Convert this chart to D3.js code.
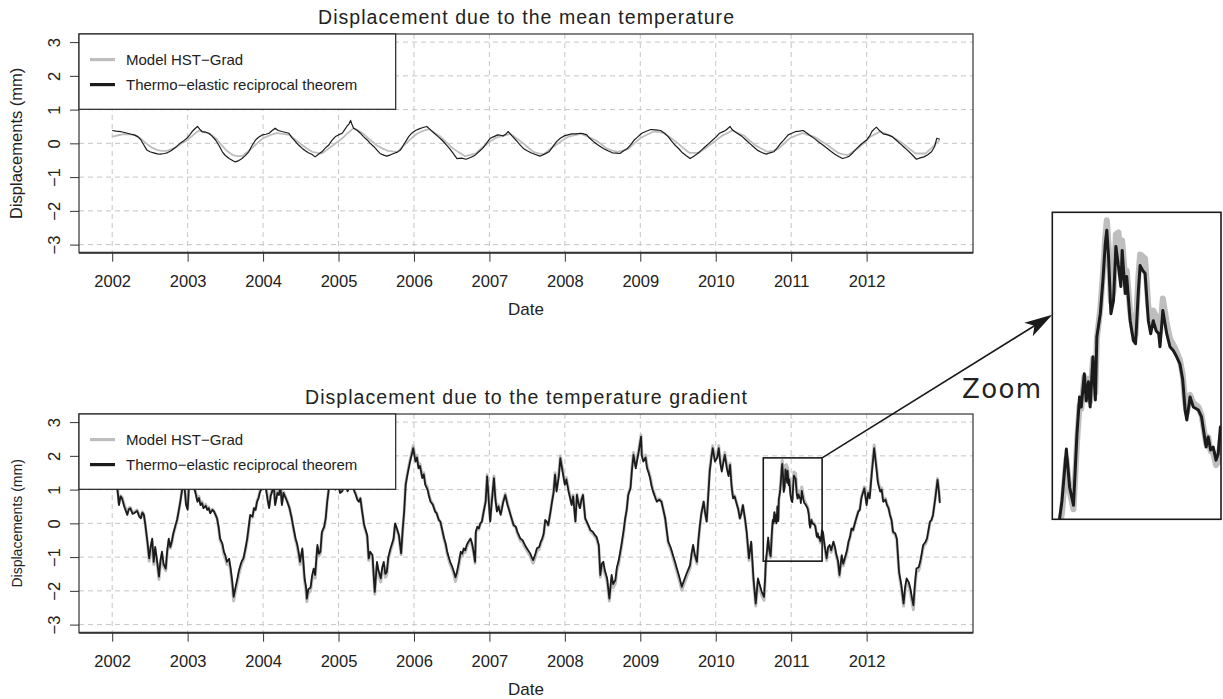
<!DOCTYPE html>
<html>
<head>
<meta charset="utf-8">
<script src="https://cdn.jsdelivr.net/npm/d3@7"></script>
<style>
  body { margin: 0; background: #fff; }
  svg text { font-family: "Liberation Sans", Arial, Helvetica, sans-serif; fill: #222; }
</style>
</head>
<body>
<svg id="chart" width="1223" height="699"></svg>
<script>
// ---- data ----
const yearTicks = [2002, 2003, 2004, 2005, 2006, 2007, 2008, 2009, 2010, 2011, 2012];
const dispTicks = [-3, -2, -1, 0, 1, 2, 3];
const panelTitles = ["Displacement due to the mean temperature", "Displacement due to the temperature gradient"];
const legendLabels = ["Model HST\u2212Grad", "Thermo\u2212elastic reciprocal theorem"];
const axisLabels = { x: "Date", y: "Displacements (mm)" };

// mean temperature: [year, mm]
const meanTheorem = [
  [2002.00,0.38],[2002.05,0.36],[2002.11,0.35],[2002.15,0.33],[2002.20,0.30],[2002.25,0.27],[2002.29,0.25],[2002.34,0.20],[2002.38,0.10],[2002.42,-0.05],
  [2002.46,-0.20],[2002.50,-0.25],[2002.55,-0.28],[2002.60,-0.31],[2002.64,-0.32],[2002.69,-0.30],[2002.73,-0.28],[2002.78,-0.22],[2002.82,-0.15],[2002.87,-0.06],
  [2002.91,0.02],[2002.95,0.08],[2002.99,0.15],[2003.03,0.26],[2003.06,0.35],[2003.10,0.44],[2003.13,0.50],[2003.16,0.42],[2003.19,0.35],[2003.24,0.33],
  [2003.28,0.30],[2003.32,0.22],[2003.37,0.10],[2003.42,-0.08],[2003.46,-0.25],[2003.50,-0.36],[2003.55,-0.45],[2003.59,-0.50],[2003.63,-0.55],[2003.67,-0.52],
  [2003.72,-0.45],[2003.76,-0.37],[2003.81,-0.25],[2003.85,-0.08],[2003.90,0.10],[2003.94,0.18],[2003.99,0.25],[2004.04,0.27],[2004.08,0.30],[2004.12,0.38],
  [2004.16,0.45],[2004.20,0.38],[2004.25,0.35],[2004.29,0.33],[2004.34,0.30],[2004.38,0.18],[2004.43,0.05],[2004.47,-0.05],[2004.52,-0.15],[2004.56,-0.22],
  [2004.60,-0.28],[2004.65,-0.33],[2004.69,-0.40],[2004.73,-0.33],[2004.78,-0.25],[2004.82,-0.15],[2004.87,-0.05],[2004.91,0.08],[2004.96,0.20],[2005.00,0.25],
  [2005.05,0.30],[2005.08,0.40],[2005.11,0.50],[2005.14,0.58],[2005.16,0.68],[2005.18,0.55],[2005.20,0.45],[2005.25,0.38],[2005.29,0.30],[2005.33,0.20],
  [2005.38,0.10],[2005.42,0.00],[2005.47,-0.10],[2005.51,-0.20],[2005.55,-0.30],[2005.60,-0.35],[2005.64,-0.38],[2005.69,-0.34],[2005.73,-0.30],[2005.78,-0.26],
  [2005.82,-0.20],[2005.87,-0.02],[2005.93,0.20],[2005.97,0.30],[2006.02,0.38],[2006.07,0.43],[2006.12,0.47],[2006.17,0.50],[2006.22,0.40],[2006.27,0.30],
  [2006.32,0.20],[2006.37,0.10],[2006.42,-0.02],[2006.47,-0.15],[2006.52,-0.30],[2006.57,-0.45],[2006.63,-0.44],[2006.69,-0.47],[2006.75,-0.42],[2006.81,-0.35],
  [2006.86,-0.25],[2006.91,-0.15],[2006.96,0.00],[2007.01,0.15],[2007.06,0.20],[2007.11,0.25],[2007.15,0.24],[2007.18,0.22],[2007.22,0.28],[2007.25,0.35],
  [2007.30,0.22],[2007.35,0.10],[2007.40,-0.03],[2007.45,-0.15],[2007.50,-0.22],[2007.55,-0.28],[2007.61,-0.33],[2007.67,-0.38],[2007.73,-0.32],[2007.79,-0.25],
  [2007.84,-0.10],[2007.89,0.05],[2007.94,0.15],[2007.99,0.22],[2008.04,0.25],[2008.09,0.28],[2008.15,0.28],[2008.21,0.30],[2008.25,0.28],[2008.29,0.25],
  [2008.33,0.15],[2008.38,0.05],[2008.44,-0.05],[2008.51,-0.15],[2008.57,-0.22],[2008.63,-0.28],[2008.68,-0.29],[2008.73,-0.30],[2008.78,-0.22],[2008.83,-0.15],
  [2008.88,-0.02],[2008.92,0.10],[2008.97,0.20],[2009.02,0.30],[2009.08,0.36],[2009.14,0.41],[2009.20,0.40],[2009.27,0.38],[2009.32,0.30],[2009.37,0.20],
  [2009.41,0.08],[2009.46,-0.05],[2009.51,-0.16],[2009.56,-0.28],[2009.61,-0.37],[2009.66,-0.45],[2009.71,-0.38],[2009.76,-0.30],[2009.81,-0.20],[2009.86,-0.10],
  [2009.91,0.00],[2009.96,0.10],[2010.01,0.20],[2010.05,0.30],[2010.09,0.34],[2010.13,0.38],[2010.16,0.44],[2010.19,0.50],[2010.22,0.40],[2010.25,0.35],
  [2010.30,0.28],[2010.35,0.20],[2010.40,0.10],[2010.45,0.00],[2010.50,-0.10],[2010.55,-0.20],[2010.61,-0.27],[2010.67,-0.32],[2010.72,-0.28],[2010.77,-0.25],
  [2010.82,-0.12],[2010.86,0.00],[2010.91,0.12],[2010.96,0.25],[2011.01,0.30],[2011.06,0.35],[2011.11,0.36],[2011.16,0.38],[2011.21,0.30],[2011.26,0.22],
  [2011.31,0.14],[2011.36,0.05],[2011.42,-0.05],[2011.48,-0.15],[2011.53,-0.24],[2011.58,-0.32],[2011.63,-0.39],[2011.68,-0.45],[2011.73,-0.42],[2011.77,-0.38],
  [2011.82,-0.27],[2011.87,-0.15],[2011.93,-0.02],[2012.00,0.10],[2012.04,0.22],[2012.07,0.35],[2012.10,0.42],[2012.13,0.48],[2012.17,0.38],[2012.22,0.28],
  [2012.28,0.25],[2012.34,0.20],[2012.39,0.10],[2012.44,0.00],[2012.49,-0.10],[2012.54,-0.20],[2012.60,-0.33],[2012.66,-0.47],[2012.71,-0.43],[2012.76,-0.40],
  [2012.81,-0.34],[2012.86,-0.25],[2012.90,-0.10],[2012.93,0.15],[2012.97,0.12]
];
const meanModel = [
  [2002.00,0.20],[2002.08,0.24],[2002.15,0.27],[2002.22,0.27],[2002.30,0.25],[2002.38,0.14],[2002.45,0.00],[2002.52,-0.12],[2002.60,-0.20],[2002.66,-0.22],
  [2002.72,-0.22],[2002.78,-0.18],[2002.85,-0.12],[2002.92,0.00],[2003.00,0.10],[2003.08,0.26],[2003.15,0.38],[2003.22,0.33],[2003.30,0.28],[2003.38,0.14],
  [2003.45,-0.05],[2003.52,-0.22],[2003.60,-0.35],[2003.66,-0.38],[2003.72,-0.38],[2003.78,-0.28],[2003.85,-0.15],[2003.92,0.00],[2004.00,0.15],[2004.09,0.24],
  [2004.18,0.30],[2004.26,0.28],[2004.35,0.25],[2004.42,0.12],[2004.50,-0.02],[2004.58,-0.15],[2004.65,-0.25],[2004.72,-0.28],[2004.78,-0.30],[2004.84,-0.20],
  [2004.90,-0.10],[2004.98,0.03],[2005.05,0.15],[2005.12,0.30],[2005.20,0.45],[2005.26,0.38],[2005.32,0.30],[2005.41,0.12],[2005.50,-0.05],[2005.58,-0.15],
  [2005.65,-0.22],[2005.72,-0.24],[2005.78,-0.25],[2005.85,-0.10],[2005.92,0.05],[2005.98,0.18],[2006.05,0.30],[2006.12,0.37],[2006.20,0.42],[2006.28,0.30],
  [2006.35,0.20],[2006.42,0.05],[2006.50,-0.12],[2006.59,-0.26],[2006.68,-0.38],[2006.75,-0.34],[2006.82,-0.30],[2006.88,-0.17],[2006.95,-0.05],[2007.02,0.07],
  [2007.10,0.18],[2007.19,0.23],[2007.28,0.28],[2007.35,0.17],[2007.42,0.05],[2007.50,-0.10],[2007.58,-0.25],[2007.65,-0.30],[2007.72,-0.32],[2007.80,-0.18],
  [2007.88,-0.05],[2007.96,0.08],[2008.05,0.20],[2008.14,0.25],[2008.22,0.28],[2008.31,0.19],[2008.40,0.10],[2008.48,-0.02],[2008.55,-0.15],[2008.62,-0.21],
  [2008.70,-0.25],[2008.78,-0.21],[2008.85,-0.15],[2008.92,0.00],[2009.00,0.15],[2009.09,0.26],[2009.18,0.35],[2009.25,0.33],[2009.32,0.30],[2009.41,0.15],
  [2009.50,0.00],[2009.57,-0.14],[2009.65,-0.28],[2009.72,-0.28],[2009.78,-0.28],[2009.85,-0.17],[2009.92,-0.05],[2010.00,0.08],[2010.08,0.22],[2010.15,0.30],
  [2010.22,0.38],[2010.30,0.30],[2010.38,0.22],[2010.45,0.08],[2010.52,-0.05],[2010.60,-0.15],[2010.68,-0.25],[2010.75,-0.22],[2010.82,-0.18],[2010.90,-0.02],
  [2010.98,0.15],[2011.06,0.23],[2011.15,0.30],[2011.22,0.25],[2011.30,0.20],[2011.39,0.08],[2011.48,-0.05],[2011.55,-0.17],[2011.62,-0.28],[2011.68,-0.32],
  [2011.75,-0.35],[2011.82,-0.24],[2011.90,-0.12],[2011.98,0.04],[2012.05,0.20],[2012.12,0.28],[2012.18,0.35],[2012.25,0.29],[2012.32,0.22],[2012.40,0.11],
  [2012.48,0.00],[2012.56,-0.15],[2012.65,-0.30],[2012.72,-0.30],[2012.78,-0.30],[2012.84,-0.18],[2012.90,-0.05],[2012.97,0.10]
];

// temperature gradient: [year, reciprocal theorem, model HST-Grad]
const gradPoints = [
  [2002.00,1.35,1.40],[2002.03,1.15,1.20],[2002.07,1.00,1.05],[2002.09,0.54,0.60],[2002.11,0.80,0.82],[2002.13,0.74,0.78],[2002.16,0.50,0.55],[2002.20,0.25,0.30],
  [2002.22,0.42,0.45],[2002.24,0.45,0.47],[2002.27,0.28,0.32],[2002.29,0.30,0.33],[2002.33,0.37,0.40],[2002.36,0.20,0.24],[2002.38,0.15,0.18],[2002.40,0.32,0.34],
  [2002.42,0.25,0.27],[2002.44,-0.05,-0.06],[2002.47,-0.60,-0.65],[2002.49,-1.04,-1.12],[2002.51,-0.70,-0.76],[2002.53,-0.45,-0.52],[2002.55,-1.14,-1.22],[2002.57,-0.70,-0.78],
  [2002.60,-1.20,-1.28],[2002.62,-1.58,-1.66],[2002.64,-1.10,-1.18],[2002.66,-0.84,-0.92],[2002.68,-1.20,-1.27],[2002.71,-1.34,-1.40],[2002.73,-0.80,-0.86],[2002.75,-0.45,-0.52],
  [2002.77,-0.70,-0.74],[2002.79,-0.54,-0.58],[2002.81,-0.30,-0.33],[2002.84,-0.05,-0.08],[2002.86,0.10,0.08],[2002.88,0.35,0.34],[2002.90,0.60,0.60],[2002.93,1.04,1.06],
  [2002.95,1.30,1.33],[2002.98,0.54,0.58],
  [2003.00,0.40,0.46],[2003.02,1.20,1.24],[2003.06,1.30,1.36],[2003.08,1.05,1.10],[2003.10,0.94,1.00],[2003.13,0.64,0.70],[2003.15,0.75,0.80],[2003.17,0.54,0.60],
  [2003.19,0.60,0.64],[2003.21,0.45,0.50],[2003.24,0.52,0.56],[2003.26,0.40,0.44],[2003.28,0.45,0.48],[2003.30,0.30,0.33],[2003.33,0.40,0.42],[2003.35,0.35,0.36],
  [2003.37,0.25,0.26],[2003.39,0.15,0.14],[2003.41,-0.10,-0.13],[2003.43,-0.45,-0.50],[2003.46,-0.60,-0.66],[2003.48,-0.84,-0.92],[2003.50,-0.95,-1.03],[2003.52,-1.14,-1.22],
  [2003.55,-1.05,-1.14],[2003.57,-1.34,-1.43],[2003.59,-1.70,-1.80],[2003.61,-2.18,-2.30],[2003.63,-1.95,-2.06],[2003.66,-1.63,-1.74],[2003.68,-1.40,-1.50],[2003.70,-1.24,-1.33],
  [2003.72,-1.10,-1.18],[2003.74,-1.04,-1.10],[2003.77,-0.70,-0.76],[2003.79,-0.45,-0.50],[2003.81,-0.10,-0.14],[2003.83,0.25,0.22],[2003.86,0.20,0.18],[2003.88,0.45,0.44],
  [2003.90,0.40,0.40],[2003.92,0.64,0.66],[2003.94,0.75,0.78],[2003.96,0.94,0.98],[2003.99,1.05,1.10],
  [2004.01,1.20,1.25],[2004.04,1.00,1.06],[2004.06,0.70,0.76],[2004.08,0.45,0.52],[2004.10,0.80,0.85],[2004.12,0.94,1.00],[2004.14,1.20,1.25],[2004.16,0.54,0.60],
  [2004.19,0.90,0.95],[2004.21,0.84,0.88],[2004.23,1.10,1.14],[2004.25,0.54,0.60],[2004.27,0.90,0.93],[2004.30,0.75,0.78],[2004.32,0.64,0.66],[2004.35,0.45,0.46],
  [2004.38,0.15,0.14],[2004.40,-0.10,-0.13],[2004.43,-0.45,-0.50],[2004.45,-0.60,-0.66],[2004.47,-0.84,-0.92],[2004.49,-1.14,-1.22],[2004.52,-0.74,-0.82],[2004.55,-1.63,-1.72],
  [2004.57,-1.90,-2.00],[2004.58,-2.23,-2.32],[2004.60,-1.95,-2.06],[2004.63,-1.90,-2.00],[2004.65,-1.55,-1.65],[2004.67,-1.34,-1.44],[2004.69,-1.53,-1.62],[2004.72,-0.64,-0.72],
  [2004.74,-0.90,-0.97],[2004.76,-0.84,-0.90],[2004.78,-0.25,-0.30],[2004.81,-0.10,-0.13],[2004.83,0.15,0.13],[2004.85,0.64,0.64],[2004.87,1.00,1.02],[2004.90,1.10,1.13],
  [2004.92,1.20,1.24],[2004.96,1.00,1.05],[2004.98,1.10,1.14],
  [2005.00,1.15,1.20],[2005.02,0.90,0.96],[2005.05,0.95,1.00],[2005.07,1.10,1.15],[2005.09,1.20,1.25],[2005.12,0.95,1.00],[2005.14,1.05,1.10],[2005.16,1.20,1.24],
  [2005.18,1.15,1.18],[2005.21,0.95,0.98],[2005.23,0.84,0.87],[2005.25,0.70,0.72],[2005.27,0.64,0.66],[2005.29,0.74,0.75],[2005.31,0.40,0.40],[2005.34,-0.05,-0.08],
  [2005.36,-0.20,-0.24],[2005.38,-0.35,-0.40],[2005.40,-1.04,-1.10],[2005.42,-0.84,-0.92],[2005.45,-0.94,-1.02],[2005.48,-2.03,-2.10],[2005.51,-1.14,-1.24],[2005.53,-1.40,-1.50],
  [2005.56,-1.63,-1.74],[2005.58,-1.30,-1.40],[2005.60,-1.14,-1.24],[2005.62,-1.50,-1.60],[2005.64,-1.44,-1.53],[2005.66,-1.00,-1.08],[2005.69,-0.74,-0.81],[2005.71,-0.60,-0.66],
  [2005.73,-0.45,-0.50],[2005.75,0.00,-0.04],[2005.78,-0.20,-0.23],[2005.80,-0.35,-0.38],[2005.83,-0.89,-0.93],[2005.85,-0.20,-0.24],[2005.87,0.35,0.34],[2005.89,1.14,1.16],
  [2005.91,1.40,1.44],[2005.93,1.63,1.68],[2005.95,1.85,1.90],[2005.97,2.03,2.10],[2005.99,2.23,2.30],
  [2006.02,1.83,1.90],[2006.04,1.95,2.02],[2006.06,1.63,1.70],[2006.08,1.70,1.76],[2006.11,1.34,1.40],[2006.13,1.45,1.50],[2006.15,1.14,1.20],[2006.18,1.00,1.05],
  [2006.20,0.80,0.84],[2006.22,0.64,0.68],[2006.25,0.55,0.58],[2006.28,0.35,0.37],[2006.30,0.30,0.31],[2006.33,0.10,0.10],[2006.35,0.05,0.04],[2006.37,-0.15,-0.17],
  [2006.40,-0.45,-0.49],[2006.42,-0.60,-0.65],[2006.44,-0.84,-0.90],[2006.46,-1.00,-1.07],[2006.48,-1.14,-1.22],[2006.51,-1.30,-1.38],[2006.53,-1.44,-1.53],[2006.55,-1.60,-1.72],
  [2006.57,-1.44,-1.55],[2006.60,-1.10,-1.20],[2006.62,-0.84,-0.93],[2006.64,-0.90,-0.98],[2006.66,-0.74,-0.81],[2006.68,-0.80,-0.86],[2006.70,-0.64,-0.70],[2006.72,-0.55,-0.60],
  [2006.75,-0.45,-0.50],[2006.77,-0.60,-0.64],[2006.79,-0.84,-0.88],[2006.81,-1.14,-1.18],[2006.82,-0.25,-0.30],[2006.84,-0.10,-0.14],[2006.86,-0.15,-0.18],[2006.88,0.00,-0.02],
  [2006.90,0.05,0.04],[2006.92,0.30,0.30],[2006.95,0.64,0.66],[2006.97,1.39,1.44],
  [2007.01,0.05,0.10],[2007.03,0.60,0.65],[2007.06,1.34,1.40],[2007.08,0.70,0.76],[2007.10,0.35,0.40],[2007.12,0.50,0.55],[2007.15,0.25,0.30],[2007.18,0.60,0.64],
  [2007.21,0.84,0.88],[2007.24,0.55,0.58],[2007.26,0.40,0.42],[2007.28,0.25,0.26],[2007.30,0.10,0.10],[2007.32,-0.05,-0.07],[2007.35,-0.10,-0.13],[2007.37,-0.25,-0.29],
  [2007.39,-0.35,-0.40],[2007.41,-0.45,-0.51],[2007.44,-0.50,-0.56],[2007.47,-0.64,-0.71],[2007.50,-0.75,-0.82],[2007.54,-0.89,-0.97],[2007.56,-1.00,-1.09],[2007.58,-1.09,-1.18],
  [2007.61,-0.90,-0.99],[2007.63,-0.74,-0.82],[2007.66,-0.70,-0.77],[2007.68,-0.55,-0.61],[2007.70,-0.45,-0.50],[2007.72,-0.30,-0.34],[2007.74,0.10,0.07],[2007.76,0.05,0.03],
  [2007.78,-0.05,-0.07],[2007.81,0.35,0.35],[2007.83,0.64,0.66],[2007.85,0.90,0.94],[2007.87,1.44,1.50],[2007.89,0.94,1.00],[2007.92,1.40,1.46],[2007.94,1.93,2.00],
  [2007.97,1.53,1.60],
  [2008.00,1.14,1.20],[2008.02,1.30,1.36],[2008.05,0.94,1.00],[2008.07,0.75,0.80],[2008.09,0.54,0.59],[2008.11,0.80,0.84],[2008.14,0.05,0.08],[2008.16,0.84,0.87],
  [2008.18,0.60,0.62],[2008.20,0.45,0.47],[2008.22,0.70,0.71],[2008.24,0.84,0.85],[2008.27,0.15,0.14],[2008.30,0.00,-0.02],[2008.34,-0.20,-0.24],[2008.37,-0.25,-0.30],
  [2008.40,-0.35,-0.40],[2008.42,-0.40,-0.46],[2008.45,-0.64,-0.71],[2008.47,-1.53,-1.60],[2008.49,-1.20,-1.28],[2008.51,-1.14,-1.22],[2008.53,-1.40,-1.48],[2008.56,-1.63,-1.72],
  [2008.59,-2.23,-2.30],[2008.62,-1.53,-1.63],[2008.64,-1.80,-1.90],[2008.67,-1.68,-1.78],[2008.69,-1.30,-1.40],[2008.71,-1.14,-1.23],[2008.73,-0.90,-0.98],[2008.75,-0.64,-0.71],
  [2008.78,-0.20,-0.26],[2008.80,0.15,0.12],[2008.82,0.40,0.40],[2008.84,0.84,0.86],[2008.87,1.04,1.08],[2008.89,1.60,1.66],[2008.91,2.03,2.10],[2008.94,1.63,1.70],
  [2008.96,1.90,1.97],[2008.98,2.13,2.20],
  [2009.01,2.57,2.62],[2009.02,2.00,2.08],[2009.04,1.83,1.90],[2009.07,1.95,2.02],[2009.09,1.63,1.70],[2009.11,1.50,1.57],[2009.13,1.34,1.40],[2009.15,1.10,1.16],
  [2009.17,0.94,0.99],[2009.20,0.75,0.79],[2009.22,0.64,0.68],[2009.25,0.70,0.73],[2009.28,0.64,0.66],[2009.30,0.45,0.46],[2009.33,0.15,0.14],[2009.35,-0.20,-0.23],
  [2009.37,-0.54,-0.59],[2009.40,-0.70,-0.76],[2009.42,-0.84,-0.91],[2009.44,-1.00,-1.08],[2009.46,-1.14,-1.23],[2009.48,-1.30,-1.39],[2009.51,-1.53,-1.63],[2009.53,-1.70,-1.80],
  [2009.55,-1.88,-1.98],[2009.57,-1.75,-1.86],[2009.59,-1.63,-1.74],[2009.62,-1.45,-1.55],[2009.66,-1.24,-1.33],[2009.68,-0.90,-0.98],[2009.70,-0.64,-0.71],[2009.72,-0.90,-0.96],
  [2009.75,-1.14,-1.20],[2009.77,-0.50,-0.56],[2009.79,-0.05,-0.09],[2009.81,0.30,0.28],[2009.84,0.64,0.64],[2009.86,0.30,0.31],[2009.88,0.05,0.06],[2009.90,0.80,0.83],
  [2009.92,1.53,1.58],[2009.94,1.90,1.96],[2009.96,2.23,2.30],[2009.99,1.83,1.90],
  [2010.02,1.95,2.02],[2010.04,2.23,2.30],[2010.06,1.80,1.87],[2010.08,1.53,1.60],[2010.10,1.80,1.86],[2010.12,2.03,2.10],[2010.15,1.60,1.67],[2010.17,1.40,1.46],
  [2010.19,1.73,1.78],[2010.21,1.10,1.15],[2010.23,0.74,0.78],[2010.25,0.80,0.83],[2010.27,0.64,0.66],[2010.30,0.40,0.41],[2010.32,0.15,0.14],[2010.34,0.30,0.30],
  [2010.36,0.54,0.54],[2010.39,0.10,0.08],[2010.41,-0.25,-0.29],[2010.44,-1.04,-1.10],[2010.47,-0.54,-0.61],[2010.50,-1.63,-1.71],[2010.53,-2.38,-2.45],[2010.56,-1.63,-1.73],
  [2010.58,-1.80,-1.90],[2010.61,-2.03,-2.14],[2010.64,-2.18,-2.28],[2010.655,-1.60,-1.72],
  [2010.664,-1.11,-1.22],[2010.675,-0.93,-1.05],[2010.695,-0.42,-0.52],[2010.710,-0.80,-0.84],[2010.728,-0.98,-1.02],[2010.744,-0.27,-0.36],[2010.756,0.10,0.02],[2010.764,0.00,-0.02],
  [2010.778,0.33,0.30],[2010.787,0.06,0.10],[2010.797,0.25,0.28],[2010.805,0.00,0.05],[2010.818,0.50,0.48],[2010.829,0.07,0.14],[2010.836,0.70,0.68],[2010.852,0.93,0.98],
  [2010.864,1.26,1.32],[2010.875,1.63,1.70],[2010.882,1.76,1.86],[2010.890,1.50,1.62],[2010.901,0.93,1.05],[2010.913,1.06,1.15],[2010.924,1.60,1.72],[2010.936,1.40,1.74],
  [2010.947,1.20,1.45],[2010.953,1.56,1.66],[2010.967,1.13,1.28],[2010.974,1.30,1.36],[2010.990,0.86,0.95],[2011.005,0.66,0.74],[2011.015,0.63,0.72],[2011.028,1.16,1.30],
  [2011.036,1.41,1.52],[2011.048,1.36,1.50],[2011.059,1.33,1.48],[2011.074,0.86,1.00],[2011.085,0.73,0.86],[2011.097,0.86,0.96],[2011.110,0.76,0.90],[2011.122,0.73,0.85],
  [2011.128,0.60,0.74],[2011.141,0.96,1.08],[2011.159,0.73,0.84],[2011.174,0.60,0.68],[2011.190,0.56,0.62],[2011.205,0.50,0.55],[2011.220,0.43,0.47],[2011.233,0.27,0.32],
  [2011.244,-0.03,0.05],[2011.252,-0.13,-0.06],[2011.267,0.10,0.12],[2011.282,0.00,0.04],[2011.305,-0.03,0.00],[2011.320,-0.10,-0.08],[2011.341,-0.40,-0.36],[2011.351,-0.30,-0.30],
  [2011.362,-0.43,-0.44],[2011.374,-0.40,-0.46],[2011.387,-0.53,-0.58],[2011.397,-0.47,-0.55],[2011.407,-0.20,-0.35],
  [2011.42,-0.25,-0.30],[2011.44,-0.60,-0.64],[2011.47,-1.04,-1.10],[2011.49,-0.70,-0.76],[2011.51,-0.64,-0.70],[2011.53,-0.80,-0.86],[2011.56,-0.54,-0.60],[2011.58,-0.70,-0.76],
  [2011.60,-0.94,-1.00],[2011.62,-1.10,-1.17],[2011.64,-1.53,-1.58],[2011.67,-0.94,-1.00],[2011.69,-1.20,-1.26],[2011.71,-1.04,-1.10],[2011.74,-0.80,-0.85],[2011.76,-0.54,-0.58],
  [2011.78,-0.40,-0.43],[2011.80,-0.15,-0.18],[2011.82,-0.20,-0.22],[2011.85,0.05,0.04],[2011.87,0.20,0.20],[2011.89,0.35,0.36],[2011.91,0.40,0.42],[2011.93,0.74,0.77],
  [2011.95,0.90,0.94],[2011.97,1.04,1.08],
  [2012.00,0.54,0.60],[2012.02,0.90,0.95],[2012.04,0.74,0.80],[2012.07,1.53,1.60],[2012.10,2.23,2.32],[2012.13,1.63,1.72],[2012.15,1.20,1.28],[2012.18,0.94,1.00],
  [2012.20,1.00,1.05],[2012.22,0.64,0.69],[2012.25,0.70,0.74],[2012.27,0.54,0.57],[2012.29,0.45,0.47],[2012.31,0.25,0.26],[2012.33,0.10,0.09],[2012.35,-0.25,-0.28],
  [2012.38,-0.30,-0.34],[2012.40,-0.45,-0.50],[2012.43,-1.44,-1.50],[2012.46,-1.83,-1.92],[2012.49,-2.38,-2.45],[2012.51,-1.90,-2.00],[2012.53,-1.63,-1.74],[2012.56,-1.75,-1.86],
  [2012.58,-1.93,-2.04],[2012.60,-2.20,-2.32],[2012.62,-2.43,-2.56],[2012.64,-1.80,-1.92],[2012.66,-1.34,-1.45],[2012.69,-1.30,-1.40],[2012.71,-1.14,-1.23],[2012.73,-0.90,-0.98],
  [2012.75,-0.64,-0.71],[2012.78,-0.55,-0.61],[2012.80,-0.45,-0.50],[2012.82,-0.20,-0.24],[2012.84,0.05,0.03],[2012.86,0.10,0.09],[2012.88,0.25,0.25],[2012.91,0.74,0.76],
  [2012.94,1.29,1.33],[2012.96,0.90,0.95],[2012.97,0.60,0.66]
];

// window of the gradient panel that is blown up on the right
const zoomWindow = { x0: 2010.63, x1: 2011.41, y0: -1.12, y1: 1.94 };

// ---- layout ----
const svg = d3.select("#chart");
const plotLeft = 79, plotRight = 973, panelH = 218.7;
const x = d3.scaleLinear().domain([2001.56, 2013.41]).range([plotLeft, plotRight]);
const modelColor = "#bebebe", theoremColor = "#1b1b1b", gridColor = "#c6c6c6";
const fmtDisp = d => d < 0 ? "\u2212" + Math.abs(d) : String(d);

const panels = [
  { top: 34, title: panelTitles[0], titleLen: 416, ylabSize: 16.5, ylabX: 22,
    theorem: meanTheorem, model: meanModel, thW: 1.2, mdW: 1.8 },
  { top: 414, title: panelTitles[1], titleLen: 442, ylabSize: 14, ylabX: 21.5,
    theorem: gradPoints.map(d => [d[0], d[1]]), model: gradPoints.map(d => [d[0], d[2]]), thW: 1.8, mdW: 3 }
];

function drawPanel(p, i) {
  const y = d3.scaleLinear().domain([-3.24, 3.24]).range([p.top + panelH, p.top]);
  const g = svg.append("g");

  g.append("clipPath").attr("id", "clip" + i)
    .append("rect").attr("x", plotLeft).attr("y", p.top)
    .attr("width", plotRight - plotLeft).attr("height", panelH);

  // dashed grid
  g.selectAll(".vgrid").data(yearTicks).join("line")
    .attr("x1", d => x(d)).attr("x2", d => x(d))
    .attr("y1", p.top).attr("y2", p.top + panelH)
    .attr("stroke", gridColor).attr("stroke-dasharray", "5,4");
  g.selectAll(".hgrid").data(dispTicks).join("line")
    .attr("x1", plotLeft).attr("x2", plotRight)
    .attr("y1", d => y(d)).attr("y2", d => y(d))
    .attr("stroke", gridColor).attr("stroke-dasharray", "5,4");

  // series
  const line = d3.line().x(d => x(d[0])).y(d => y(d[1]));
  const lines = g.append("g").attr("clip-path", `url(#clip${i})`);
  lines.append("path").datum(p.model).attr("d", line)
    .attr("fill", "none").attr("stroke", modelColor).attr("stroke-width", p.mdW).attr("stroke-linejoin", "round");
  lines.append("path").datum(p.theorem).attr("d", line)
    .attr("fill", "none").attr("stroke", theoremColor).attr("stroke-width", p.thW).attr("stroke-linejoin", "round");

  // box
  g.append("rect").attr("x", plotLeft).attr("y", p.top)
    .attr("width", plotRight - plotLeft).attr("height", panelH)
    .attr("fill", "none").attr("stroke", "#333").attr("stroke-width", 1.2);
  g.append("line").attr("x1", plotLeft).attr("x2", plotRight)
    .attr("y1", p.top + panelH).attr("y2", p.top + panelH)
    .attr("stroke", "#333").attr("stroke-width", 2);

  // axes
  const xa = g.append("g").attr("transform", `translate(0,${p.top + panelH})`)
    .style("color", "#333")
    .call(d3.axisBottom(x).tickValues(yearTicks).tickFormat(d3.format("d")).tickSize(9));
  xa.select(".domain").remove();
  xa.selectAll("text").attr("y", 34).attr("dy", null)
    .style("font-size", "16.5px").style("font-family", "'Liberation Sans', Arial, sans-serif");

  const ya = g.append("g").attr("transform", `translate(${plotLeft},0)`)
    .style("color", "#333")
    .call(d3.axisLeft(y).tickValues(dispTicks).tickFormat(fmtDisp).tickSize(9));
  ya.select(".domain").remove();
  ya.selectAll("text").attr("x", 0).attr("y", -19).attr("dy", null)
    .attr("transform", "rotate(-90)").attr("text-anchor", "middle")
    .style("font-size", "16.5px").style("font-family", "'Liberation Sans', Arial, sans-serif");

  // titles and axis labels
  const cx = (plotLeft + plotRight) / 2;
  g.append("text").attr("x", cx - p.titleLen / 2).attr("y", p.top - 10.4)
    .attr("textLength", p.titleLen).attr("lengthAdjust", "spacing")
    .style("font-size", "19.5px").text(p.title);
  g.append("text").attr("x", cx).attr("y", p.top + panelH + 62.3)
    .attr("text-anchor", "middle").style("font-size", "17px").text(axisLabels.x);
  g.append("text").attr("transform", `translate(${p.ylabX},${y(0)}) rotate(-90)`)
    .attr("text-anchor", "middle").style("font-size", p.ylabSize + "px").text(axisLabels.y);

  // legend (white box over the data)
  const lg = g.append("g");
  lg.append("rect").attr("x", plotLeft).attr("y", p.top).attr("width", 316.7).attr("height", 75.3)
    .attr("fill", "#fff").attr("stroke", "#222").attr("stroke-width", 1.2);
  [modelColor, theoremColor].forEach((c, k) => {
    const ly = p.top + 25.6 + k * 25;
    lg.append("line").attr("x1", 90).attr("x2", 115).attr("y1", ly).attr("y2", ly)
      .attr("stroke", c).attr("stroke-width", 3.2);
    lg.append("text").attr("x", 126).attr("y", ly + 5.4).style("font-size", "15px").text(legendLabels[k]);
  });
  return y;
}

const yScales = panels.map(drawPanel);
const yGrad = yScales[1];

// zoom window on the gradient panel
const rx0 = x(zoomWindow.x0), rx1 = x(zoomWindow.x1);
const ry0 = yGrad(zoomWindow.y1), ry1 = yGrad(zoomWindow.y0);
svg.append("rect").attr("x", rx0).attr("y", ry0).attr("width", rx1 - rx0).attr("height", ry1 - ry0)
  .attr("fill", "none").attr("stroke", "#1a1a1a").attr("stroke-width", 1.6);

// inset
const inset = { left: 1052.3, right: 1221, top: 212.3, bottom: 519.3 };
const xi = d3.scaleLinear().domain([zoomWindow.x0, zoomWindow.x1]).range([inset.left, inset.right]);
const yi = d3.scaleLinear().domain([zoomWindow.y0, zoomWindow.y1]).range([inset.bottom, inset.top]);
svg.append("clipPath").attr("id", "clipInset").append("rect")
  .attr("x", inset.left).attr("y", inset.top)
  .attr("width", inset.right - inset.left).attr("height", inset.bottom - inset.top);
const insetLine = d3.line().x(d => xi(d[0])).y(d => yi(d[1]));
const ig = svg.append("g").attr("clip-path", "url(#clipInset)");
ig.append("path").datum(panels[1].model).attr("d", insetLine)
  .attr("fill", "none").attr("stroke", modelColor).attr("stroke-width", 6).attr("stroke-linejoin", "round");
ig.append("path").datum(panels[1].theorem).attr("d", insetLine)
  .attr("fill", "none").attr("stroke", theoremColor).attr("stroke-width", 3).attr("stroke-linejoin", "round");
svg.append("rect").attr("x", inset.left).attr("y", inset.top)
  .attr("width", inset.right - inset.left).attr("height", inset.bottom - inset.top)
  .attr("fill", "none").attr("stroke", "#1a1a1a").attr("stroke-width", 1.6);

// arrow from the window corner to the inset
const tip = [inset.left, inset.top + (inset.bottom - inset.top) / 3];
const start = [rx1, ry0];
const dx = tip[0] - start[0], dy = tip[1] - start[1], len = Math.hypot(dx, dy);
const ux = dx / len, uy = dy / len, nx = -uy, ny = ux;
const headL = 28, headW = 8;
svg.append("line").attr("x1", start[0]).attr("y1", start[1])
  .attr("x2", tip[0] - ux * 20).attr("y2", tip[1] - uy * 20)
  .attr("stroke", "#1a1a1a").attr("stroke-width", 1.6);
svg.append("path")
  .attr("d", `M${tip[0]},${tip[1]}` +
    `L${tip[0] - ux * headL + nx * headW},${tip[1] - uy * headL + ny * headW}` +
    `L${tip[0] - ux * (headL - 7)},${tip[1] - uy * (headL - 7)}` +
    `L${tip[0] - ux * headL - nx * headW},${tip[1] - uy * headL - ny * headW}Z`)
  .attr("fill", "#1a1a1a");
svg.append("text").attr("x", 962).attr("y", 398)
  .attr("textLength", 79).attr("lengthAdjust", "spacing")
  .style("font-family", "'DejaVu Sans', sans-serif").style("font-size", "26px").text("Zoom");
</script>
</body>
</html>
